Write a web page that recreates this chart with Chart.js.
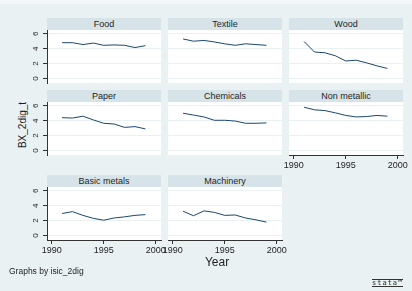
<!DOCTYPE html>
<html>
<head>
<meta charset="utf-8">
<script src="https://cdn.jsdelivr.net/npm/chart.js@4.4.1/dist/chart.umd.min.js"></script>
<style>
body{margin:0;width:412px;height:291px;background:#eaf1f3;position:relative;overflow:hidden;font-family:"Liberation Sans",Arial,sans-serif;color:#1e1e1e}
#topband{position:absolute;left:0;top:0;width:412px;height:4px;background:#f3f7f8}
.strip{position:absolute;height:12px;background:#d6e3e8;font-size:9px;line-height:12px;text-align:center}
canvas{position:absolute}
.txt{position:absolute;white-space:nowrap}
</style>
</head>
<body>
<div id="topband"></div>
<script>
// años y series
const years = [1991, 1992, 1993, 1994, 1995, 1996, 1997, 1998, 1999];
const food = [4.8, 4.8, 4.55, 4.75, 4.45, 4.5, 4.45, 4.15, 4.4];
const textile = [5.3, 5.0, 5.1, 4.9, 4.65, 4.45, 4.65, 4.55, 4.45];
const wood = [4.95, 3.55, 3.45, 3.05, 2.35, 2.45, 2.1, 1.7, 1.35];
const paper = [4.4, 4.35, 4.6, 4.1, 3.65, 3.55, 3.1, 3.2, 2.9];
const chemicals = [5.0, 4.75, 4.5, 4.05, 4.05, 3.95, 3.65, 3.65, 3.7];
const nonMetallic = [5.8, 5.45, 5.35, 5.05, 4.7, 4.5, 4.55, 4.7, 4.6];
const basicMetals = [2.95, 3.2, 2.7, 2.3, 2.05, 2.35, 2.5, 2.7, 2.8];
const machinery = [3.25, 2.65, 3.3, 3.1, 2.7, 2.75, 2.35, 2.1, 1.8];

const industries = ['Food', 'Textile', 'Wood', 'Paper', 'Chemicals', 'Non metallic', 'Basic metals', 'Machinery'];
const series = [food, textile, wood, paper, chemicals, nonMetallic, basicMetals, machinery];
const xTicks = [1990, 1995, 2000];
const yTicks = [0, 2, 4, 6];

// posiciones de los paneles
const colX = [47, 168, 289];
const stripY = [18, 90, 175];
const plotW = 114, plotH = 53;
const L = 18, R = 14, T = 12, Bpad = 12, Baxis = 22;

const bgPlugin = {
    id: 'fondoBlanco',
    beforeDraw(chart) {
        const a = chart.chartArea;
        const ctx = chart.ctx;
        ctx.save();
        ctx.fillStyle = '#ffffff';
        ctx.fillRect(a.left, a.top, a.right - a.left, a.bottom - a.top);
        ctx.restore();
    }
};

function dibujarPanel(i) {
    const col = i % 3, row = Math.floor(i / 3);
    const conY = col === 0;
    const conX = i + 3 >= industries.length;

    const strip = document.createElement('div');
    strip.className = 'strip';
    strip.style.left = colX[col] + 'px';
    strip.style.top = stripY[row] + 'px';
    strip.style.width = plotW + 'px';
    strip.textContent = industries[i];
    document.body.appendChild(strip);

    const plotTop = stripY[row] + 12;
    const canvas = document.createElement('canvas');
    const w = L + plotW + R;
    const h = T + plotH + (conX ? Baxis : Bpad);
    canvas.width = w; canvas.height = h;
    canvas.style.left = (colX[col] - L) + 'px';
    canvas.style.top = (plotTop - T) + 'px';
    canvas.style.width = w + 'px'; canvas.style.height = h + 'px';
    document.body.appendChild(canvas);

    new Chart(canvas.getContext('2d'), {
        type: 'line',
        data: {
            datasets: [{
                data: years.map((y, k) => ({ x: y, y: series[i][k] })),
                borderColor: '#1a476f',
                borderWidth: 1,
                pointRadius: 0,
                tension: 0,
                fill: false
            }]
        },
        options: {
            responsive: false,
            animation: false,
            devicePixelRatio: 1,
            layout: { padding: { left: 0, right: R, top: T, bottom: conX ? 0 : Bpad } },
            plugins: { legend: { display: false }, tooltip: { enabled: false } },
            scales: {
                x: {
                    type: 'linear',
                    display: conX,
                    min: 1989.55,
                    max: 2000.5,
                    afterBuildTicks: s => { s.ticks = xTicks.map(v => ({ value: v })); },
                    afterFit: s => { if (conX) s.height = Baxis; },
                    border: { display: true, color: '#333', width: 1 },
                    grid: { drawOnChartArea: false, drawTicks: true, tickLength: 4, tickColor: '#333' },
                    ticks: {
                        callback: v => String(v),
                        padding: 1,
                        maxRotation: 0,
                        minRotation: 0,
                        color: '#1e1e1e',
                        font: { family: 'Liberation Sans', size: 9 }
                    }
                },
                y: {
                    type: 'linear',
                    min: -0.6,
                    max: 6.5,
                    afterBuildTicks: s => { s.ticks = yTicks.map(v => ({ value: v })); },
                    afterFit: s => { s.width = L; },
                    border: { display: conY, color: '#333', width: 1 },
                    grid: { color: '#eaf1f3', lineWidth: 1, drawTicks: conY, tickLength: 4, tickColor: '#333' },
                    ticks: {
                        display: conY,
                        callback: v => String(v),
                        padding: 5,
                        minRotation: 90,
                        maxRotation: 90,
                        crossAlign: 'center',
                        color: '#1e1e1e',
                        font: { family: 'Liberation Sans', size: 8 }
                    }
                }
            }
        },
        plugins: [bgPlugin]
    });
}

for (let i = 0; i < industries.length; i++) {
    dibujarPanel(i);
}

// textos sueltos
function texto(t, x, y, size, extra) {
    const d = document.createElement('div');
    d.className = 'txt';
    d.textContent = t;
    d.style.left = x + 'px';
    d.style.top = y + 'px';
    d.style.fontSize = size + 'px';
    if (extra) Object.assign(d.style, extra);
    document.body.appendChild(d);
    return d;
}
texto('BX_2dig_t', 22, 125, 10, { transform: 'translate(-50%,-50%) rotate(-90deg)' });
texto('Year', 217, 262, 12, { transform: 'translate(-50%,-50%)' });
texto('Graphs by isic_2dig', 9, 266, 8.5);
texto('stata™', 372, 279, 7, {
    letterSpacing: '1px', lineHeight: '6px', borderTop: '1px solid #333', borderBottom: '1px solid #333',
    fontFamily: '"DejaVu Sans Mono", monospace'
});
</script>
</body>
</html>
